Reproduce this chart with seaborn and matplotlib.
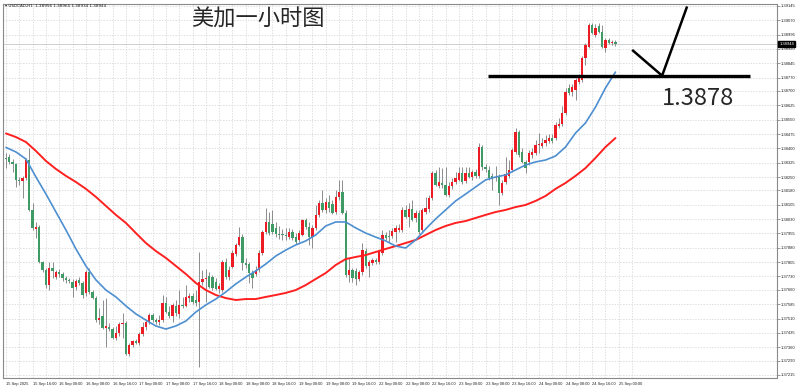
import numpy as np
import pandas as pd
import seaborn as sns
import matplotlib.pyplot as plt
import matplotlib.transforms as mtransforms

# USDCAD H1 candles
opens = [1.38350, 1.38355, 1.38329, 1.38318, 1.38235, 1.38229, 1.38245, 1.38339, 1.38078, 1.37978,
         1.37989, 1.37806, 1.37764, 1.37685, 1.37774, 1.37727, 1.37753, 1.37743, 1.37722, 1.37712,
         1.37701, 1.37675, 1.37712, 1.37696, 1.37644, 1.37753, 1.37649, 1.37617, 1.37502, 1.37523,
         1.37461, 1.37466, 1.37455, 1.37408, 1.37434, 1.37481, 1.37487, 1.37325, 1.37372, 1.37393,
         1.37382, 1.37429, 1.37466, 1.37492, 1.37529, 1.37502, 1.37492, 1.37502, 1.37591, 1.37544,
         1.37523, 1.37576, 1.37534, 1.37581, 1.37576, 1.37617, 1.37628, 1.37607, 1.37597, 1.37701,
         1.37717, 1.37733, 1.37727, 1.37701, 1.37665, 1.37659, 1.37806, 1.37727, 1.37780, 1.37848,
         1.37895, 1.37936, 1.37801, 1.37795, 1.37748, 1.37743, 1.37764, 1.37853, 1.37963, 1.38015,
         1.38004, 1.37984, 1.37952, 1.37952, 1.37947, 1.37936, 1.37963, 1.37936, 1.37921, 1.37947,
         1.38025, 1.37989, 1.37936, 1.37984, 1.38052, 1.38114, 1.38078, 1.38120, 1.38109, 1.38067,
         1.38146, 1.38172, 1.38062, 1.37738, 1.37764, 1.37759, 1.37717, 1.37753, 1.37863, 1.37785,
         1.37801, 1.37816, 1.37806, 1.37853, 1.37947, 1.37942, 1.37942, 1.37963, 1.37973, 1.37973,
         1.38078, 1.38041, 1.38083, 1.38036, 1.38062, 1.37973, 1.38067, 1.38083, 1.38140, 1.38271,
         1.38203, 1.38219, 1.38208, 1.38156, 1.38203, 1.38224, 1.38235, 1.38271, 1.38229, 1.38271,
         1.38250, 1.38276, 1.38256, 1.38407, 1.38303, 1.38287, 1.38256, 1.38245, 1.38250, 1.38167,
         1.38224, 1.38256, 1.38287, 1.38381, 1.38486, 1.38381, 1.38329, 1.38329, 1.38365, 1.38376,
         1.38418, 1.38412, 1.38428, 1.38439, 1.38454, 1.38454, 1.38517, 1.38527, 1.38585, 1.38716,
         1.38695, 1.38705, 1.38747, 1.38758, 1.38873, 1.38930, 1.39045, 1.38993, 1.39040, 1.39009,
         1.38925, 1.38967, 1.38951, 1.38956]
highs = [1.38376, 1.38371, 1.38344, 1.38324, 1.38250, 1.38256, 1.38350, 1.38402, 1.38114, 1.38015,
         1.37999, 1.37811, 1.37774, 1.37806, 1.37806, 1.37764, 1.37769, 1.37753, 1.37733, 1.37722,
         1.37717, 1.37717, 1.37727, 1.37706, 1.37764, 1.37774, 1.37659, 1.37628, 1.37565, 1.37607,
         1.37617, 1.37487, 1.37466, 1.37471, 1.37492, 1.37539, 1.37497, 1.37382, 1.37398, 1.37403,
         1.37440, 1.37492, 1.37502, 1.37539, 1.37539, 1.37513, 1.37529, 1.37633, 1.37623, 1.37576,
         1.37591, 1.37607, 1.37659, 1.37623, 1.37685, 1.37644, 1.37644, 1.37659, 1.37858, 1.37764,
         1.37769, 1.37753, 1.37738, 1.37722, 1.37696, 1.37816, 1.37827, 1.37785, 1.37868, 1.37905,
         1.37989, 1.37952, 1.37827, 1.37806, 1.37764, 1.37785, 1.37868, 1.37973, 1.38088, 1.38067,
         1.38078, 1.38015, 1.37994, 1.37978, 1.37984, 1.37984, 1.37978, 1.37957, 1.37973, 1.38031,
         1.38036, 1.38015, 1.37999, 1.38104, 1.38130, 1.38182, 1.38140, 1.38156, 1.38130, 1.38182,
         1.38235, 1.38235, 1.38078, 1.37827, 1.37774, 1.37774, 1.37764, 1.37905, 1.37879, 1.37816,
         1.37827, 1.37827, 1.37868, 1.37973, 1.37963, 1.37973, 1.37984, 1.37999, 1.38004, 1.38093,
         1.38104, 1.38114, 1.38130, 1.38078, 1.38078, 1.38088, 1.38146, 1.38156, 1.38282, 1.38287,
         1.38303, 1.38297, 1.38303, 1.38224, 1.38245, 1.38276, 1.38303, 1.38303, 1.38303, 1.38303,
         1.38287, 1.38292, 1.38428, 1.38418, 1.38318, 1.38308, 1.38271, 1.38308, 1.38266, 1.38235,
         1.38355, 1.38339, 1.38402, 1.38507, 1.38496, 1.38402, 1.38339, 1.38391, 1.38402, 1.38444,
         1.38480, 1.38454, 1.38470, 1.38475, 1.38475, 1.38538, 1.38559, 1.38622, 1.38716, 1.38737,
         1.38737, 1.38768, 1.38789, 1.38883, 1.38951, 1.39056, 1.39056, 1.39050, 1.39056, 1.39045,
         1.38977, 1.38977, 1.38967, 1.38965]
lows = [1.38297, 1.38318, 1.38276, 1.38198, 1.38208, 1.38140, 1.38235, 1.38072, 1.37973, 1.37931,
        1.37801, 1.37753, 1.37670, 1.37659, 1.37722, 1.37717, 1.37727, 1.37706, 1.37696, 1.37696,
        1.37623, 1.37659, 1.37685, 1.37617, 1.37628, 1.37638, 1.37612, 1.37492, 1.37481, 1.37455,
        1.37361, 1.37445, 1.37403, 1.37398, 1.37419, 1.37408, 1.37319, 1.37314, 1.37361, 1.37377,
        1.37372, 1.37419, 1.37450, 1.37481, 1.37492, 1.37481, 1.37476, 1.37492, 1.37539, 1.37513,
        1.37492, 1.37523, 1.37513, 1.37565, 1.37570, 1.37597, 1.37586, 1.37576, 1.37257, 1.37685,
        1.37597, 1.37670, 1.37659, 1.37659, 1.37644, 1.37649, 1.37717, 1.37712, 1.37774, 1.37837,
        1.37889, 1.37764, 1.37774, 1.37696, 1.37670, 1.37733, 1.37753, 1.37842, 1.37952, 1.37947,
        1.37952, 1.37936, 1.37926, 1.37921, 1.37921, 1.37926, 1.37921, 1.37900, 1.37910, 1.37942,
        1.37978, 1.37895, 1.37879, 1.37973, 1.38041, 1.38067, 1.38062, 1.38067, 1.38057, 1.38057,
        1.38130, 1.38057, 1.37727, 1.37701, 1.37701, 1.37685, 1.37706, 1.37738, 1.37774, 1.37727,
        1.37790, 1.37795, 1.37795, 1.37842, 1.37921, 1.37910, 1.37931, 1.37910, 1.37963, 1.37963,
        1.38036, 1.37989, 1.38020, 1.38015, 1.37952, 1.37963, 1.38057, 1.38067, 1.38130, 1.38203,
        1.38193, 1.38193, 1.38151, 1.38146, 1.38188, 1.38214, 1.38229, 1.38214, 1.38219, 1.38245,
        1.38235, 1.38245, 1.38245, 1.38287, 1.38276, 1.38235, 1.38182, 1.38229, 1.38104, 1.38156,
        1.38214, 1.38245, 1.38276, 1.38371, 1.38355, 1.38324, 1.38271, 1.38313, 1.38350, 1.38365,
        1.38376, 1.38402, 1.38412, 1.38428, 1.38428, 1.38444, 1.38507, 1.38517, 1.38575, 1.38679,
        1.38674, 1.38653, 1.38737, 1.38747, 1.38836, 1.38925, 1.38998, 1.38982, 1.39003, 1.38925,
        1.38904, 1.38946, 1.38941, 1.38934]
closes = [1.38344, 1.38329, 1.38318, 1.38235, 1.38229, 1.38245, 1.38339, 1.38078, 1.37984, 1.37989,
          1.37806, 1.37764, 1.37685, 1.37774, 1.37759, 1.37753, 1.37743, 1.37722, 1.37712, 1.37706,
          1.37670, 1.37706, 1.37696, 1.37633, 1.37753, 1.37649, 1.37617, 1.37502, 1.37513, 1.37461,
          1.37471, 1.37455, 1.37408, 1.37434, 1.37481, 1.37487, 1.37325, 1.37372, 1.37393, 1.37382,
          1.37429, 1.37466, 1.37492, 1.37529, 1.37502, 1.37492, 1.37502, 1.37591, 1.37544, 1.37523,
          1.37581, 1.37539, 1.37581, 1.37576, 1.37623, 1.37628, 1.37597, 1.37591, 1.37701, 1.37717,
          1.37722, 1.37675, 1.37670, 1.37665, 1.37680, 1.37806, 1.37727, 1.37764, 1.37853, 1.37895,
          1.37936, 1.37801, 1.37790, 1.37748, 1.37722, 1.37764, 1.37853, 1.37963, 1.38015, 1.37957,
          1.37963, 1.37952, 1.37947, 1.37947, 1.37942, 1.37963, 1.37931, 1.37910, 1.37957, 1.38025,
          1.37989, 1.37936, 1.37984, 1.38052, 1.38114, 1.38078, 1.38120, 1.38088, 1.38062, 1.38146,
          1.38172, 1.38062, 1.37738, 1.37764, 1.37722, 1.37717, 1.37753, 1.37868, 1.37785, 1.37806,
          1.37816, 1.37806, 1.37858, 1.37947, 1.37931, 1.37936, 1.37968, 1.37984, 1.37984, 1.38078,
          1.38041, 1.38083, 1.38025, 1.38062, 1.37963, 1.38078, 1.38088, 1.38140, 1.38271, 1.38208,
          1.38224, 1.38208, 1.38156, 1.38203, 1.38224, 1.38245, 1.38271, 1.38224, 1.38271, 1.38250,
          1.38276, 1.38256, 1.38407, 1.38303, 1.38292, 1.38245, 1.38245, 1.38250, 1.38167, 1.38219,
          1.38266, 1.38287, 1.38391, 1.38486, 1.38365, 1.38329, 1.38297, 1.38376, 1.38381, 1.38418,
          1.38423, 1.38428, 1.38444, 1.38454, 1.38439, 1.38522, 1.38527, 1.38585, 1.38695, 1.38690,
          1.38721, 1.38758, 1.38768, 1.38873, 1.38941, 1.39045, 1.39003, 1.39030, 1.39009, 1.38930,
          1.38967, 1.38951, 1.38956, 1.38944]

# moving averages, read every third bar
ma_idx = [0, 3, 6, 9, 12, 15, 18, 21, 24, 27, 30, 33, 36, 39, 42, 45, 48, 51, 54, 57, 60,
          63, 66, 69, 72, 75, 78, 81, 84, 87, 90, 93, 96, 99, 102, 105, 108, 111, 114, 117,
          120, 123, 126, 129, 132, 135, 138, 141, 144, 147, 150, 153, 156, 159, 162, 165,
          168, 171, 174, 177, 180, 183]
ma_fast = [1.38405, 1.38381, 1.38344, 1.38250, 1.38161, 1.38067, 1.37973, 1.37874, 1.37785,
           1.37712, 1.37659, 1.37623, 1.37576, 1.37534, 1.37502, 1.37471, 1.37455, 1.37471,
           1.37497, 1.37544, 1.37581, 1.37612, 1.37649, 1.37691, 1.37727, 1.37759, 1.37795,
           1.37837, 1.37868, 1.37895, 1.37916, 1.37947, 1.37994, 1.38015, 1.38015, 1.37984,
           1.37957, 1.37936, 1.37916, 1.37889, 1.37879, 1.37921, 1.37978, 1.38031, 1.38078,
           1.38125, 1.38161, 1.38198, 1.38235, 1.38250, 1.38261, 1.38287, 1.38313, 1.38329,
           1.38339, 1.38360, 1.38407, 1.38480, 1.38533, 1.38616, 1.38716, 1.38799]
ma_slow = [1.38478, 1.38459, 1.38433, 1.38386, 1.38334, 1.38292, 1.38256, 1.38224, 1.38188,
           1.38146, 1.38099, 1.38052, 1.38010, 1.37957, 1.37905, 1.37863, 1.37827, 1.37785,
           1.37743, 1.37696, 1.37659, 1.37633, 1.37617, 1.37607, 1.37612, 1.37612, 1.37623,
           1.37633, 1.37644, 1.37659, 1.37685, 1.37717, 1.37748, 1.37790, 1.37821, 1.37832,
           1.37842, 1.37858, 1.37874, 1.37889, 1.37905, 1.37921, 1.37947, 1.37973, 1.37994,
           1.38010, 1.38020, 1.38036, 1.38052, 1.38067, 1.38078, 1.38093, 1.38104, 1.38125,
           1.38151, 1.38188, 1.38219, 1.38256, 1.38297, 1.38350, 1.38407, 1.38454]

price_ticks = [1.37215, 1.37290, 1.37360, 1.37435, 1.37510, 1.37585, 1.37660, 1.37730, 1.37805,
               1.37880, 1.37955, 1.38030, 1.38105, 1.38180, 1.38250, 1.38325, 1.38400, 1.38475,
               1.38550, 1.38625, 1.38700, 1.38770, 1.38845, 1.38920, 1.38995, 1.39070, 1.39145]
time_labels = ["15 Sep 2025", "15 Sep 16:00", "16 Sep 00:00", "16 Sep 08:00", "16 Sep 16:00",
               "17 Sep 00:00", "17 Sep 08:00", "17 Sep 16:00", "18 Sep 00:00", "18 Sep 08:00",
               "18 Sep 16:00", "19 Sep 00:00", "19 Sep 08:00", "19 Sep 16:00", "22 Sep 00:00",
               "22 Sep 08:00", "22 Sep 16:00", "23 Sep 00:00", "23 Sep 08:00", "23 Sep 16:00",
               "24 Sep 00:00", "24 Sep 08:00", "24 Sep 16:00", "25 Sep 00:00"]

support = 1.3878
last_price = 1.38944
header = "\u25be USDCAD,H1  1.38956 1.38965 1.38934 1.38944"

sns.set_style("white")
plt.rcParams['font.family'] = ['Liberation Sans', 'DejaVu Sans']

fig = plt.figure(figsize=(8, 3.89), dpi=100)
ax = fig.add_axes([3 / 800, 11 / 389, 774 / 800, 374 / 389])

df = pd.DataFrame({"open": opens, "high": highs, "low": lows, "close": closes})
df["t"] = np.arange(len(df))
up = df["close"] >= df["open"]

# candles: red = up, green = down
ax.vlines(df["t"], df["low"], df["high"], color="#8c8c8c", lw=0.7, zorder=3)
body_lo = np.minimum(df["open"], df["close"])
body_h = np.maximum((df["close"] - df["open"]).abs(), 0.000015)
ax.bar(df["t"], body_h, bottom=body_lo, width=0.7,
       color=np.where(up, "#ec1c24", "#3f9a66"), linewidth=0, zorder=4)

ma = pd.DataFrame({"t": ma_idx, "fast": ma_fast, "slow": ma_slow})
sns.lineplot(data=ma, x="t", y="slow", color="#ff2020", lw=1.4, ax=ax, zorder=5)
sns.lineplot(data=ma, x="t", y="fast", color="#4d8fd0", lw=1.2, ax=ax, zorder=5)

# bid line
ax.axhline(last_price, color="#c8c8c8", lw=0.6, zorder=1)

# hand-drawn support mark
ax.hlines(support, 144.7, 223.4, color="black", lw=2.4, zorder=6)
ax.plot([188.0, 197.0, 204.5], [1.38915, support, 1.39142], color="black", lw=1.8,
        zorder=6, clip_on=False, solid_capstyle="butt")

ax.set_xlim(-0.9, 231.5)
ax.set_ylim(1.37199, 1.39155)

ax.yaxis.tick_right()
ax.set_yticks(price_ticks)
ax.set_yticklabels([f"{p:.5f}" for p in price_ticks], fontsize=3.0)
ax.set_xticks(np.arange(0, 8 * len(time_labels), 8))
ax.set_xticks(np.arange(4, 8 * len(time_labels), 8), minor=True)
ax.set_xticklabels(time_labels, fontsize=2.9, ha="left")
shift = mtransforms.ScaledTranslation(-2 / 100, 0, fig.dpi_scale_trans)
for lab in ax.get_xticklabels():
    lab.set_transform(lab.get_transform() + shift)
ax.tick_params(axis="both", which="major", length=2, width=0.5, pad=1, color="#707070",
               labelcolor="#202020")
ax.tick_params(axis="x", which="minor", length=0)
ax.set_xlabel("")
ax.set_ylabel("")
ax.grid(which="both", color="#d2d2d2", ls=(0, (2, 2)), lw=0.5)
ax.set_axisbelow(True)
for s in ax.spines.values():
    s.set_color("#8a8a8a")
    s.set_linewidth(0.8)

# current price box on the price scale
ax.text(1.003, last_price, f"{last_price:.5f}", transform=ax.get_yaxis_transform(),
        fontsize=3.0, color="white", va="center", ha="left", zorder=10,
        bbox=dict(boxstyle="square,pad=0.25", fc="black", ec="black"))

fig.text(5 / 800, 1 - 6 / 389, header, fontsize=3.0, va="center", ha="left",
         family=["DejaVu Sans"], color="#202020")
fig.text(258 / 800, 1 - 19 / 389, "美加一小时图", fontsize=16, ha="center", va="center",
         family=["Noto Sans CJK SC", "DejaVu Sans"])
fig.text(662 / 800, 1 - 105 / 389, "1.3878", fontsize=17, ha="left", va="baseline",
         family=["Noto Sans CJK SC", "DejaVu Sans"])

fig.savefig("out.png", dpi=100, facecolor="white")
